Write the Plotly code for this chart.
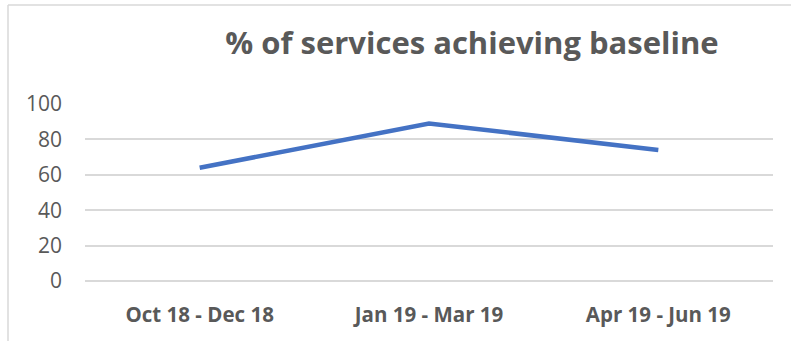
import plotly.graph_objects as go

categories = ["Oct 18 - Dec 18", "Jan 19 - Mar 19", "Apr 19 - Jun 19"]
values = [64, 89, 74]
y_ticks = [0, 20, 40, 60, 80, 100]
title_text = "% of services achieving baseline"

W, H = 791, 341
L, R, T, B = 85, 18, 104, 60
pw = W - L - R
ph = H - T - B

fig = go.Figure()
fig.add_trace(go.Scatter(
    x=categories, y=values, mode="lines",
    line=dict(color="#4472C4", width=4.5),
    hoverinfo="skip", showlegend=False,
))

gray = "#595959"
fig.update_layout(
    width=W, height=H,
    margin=dict(l=L, r=R, t=T, b=B, autoexpand=False),
    paper_bgcolor="white", plot_bgcolor="white",
    title=dict(text="<b>" + title_text + "</b>", x=472 / W, xanchor="center",
               y=1 - 43 / H, yanchor="middle", yref="container",
               font=dict(family="Open Sans", size=31, color=gray)),
    xaxis=dict(range=[-0.5, 2.5], showgrid=False, showline=False, zeroline=False, ticks="",
               tickfont=dict(family="Open Sans", size=20.5, color=gray, weight="bold"),
               ticklabelstandoff=19),
    yaxis=dict(range=[0, 100], tickvals=y_ticks, showgrid=True, gridcolor="#d9d9d9",
               gridwidth=1.5, zeroline=True, zerolinecolor="#d9d9d9", zerolinewidth=1.5,
               showline=False, ticks="",
               tickfont=dict(family="Open Sans", size=21, color=gray),
               ticklabelstandoff=22),
    shapes=[
        dict(type="line", xref="paper", yref="paper",
             x0=(8 - L) / pw, x1=(8 - L) / pw, y0=(H - 5 - B) / ph, y1=-B / ph - 0.1,
             line=dict(color="#d9d9d9", width=1.5)),
        dict(type="line", xref="paper", yref="paper",
             x0=(8 - L) / pw, x1=(W - L) / pw + 0.1, y0=(H - 5 - B) / ph, y1=(H - 5 - B) / ph,
             line=dict(color="#d9d9d9", width=1.5)),
    ],
)

fig.write_html("out.html")
